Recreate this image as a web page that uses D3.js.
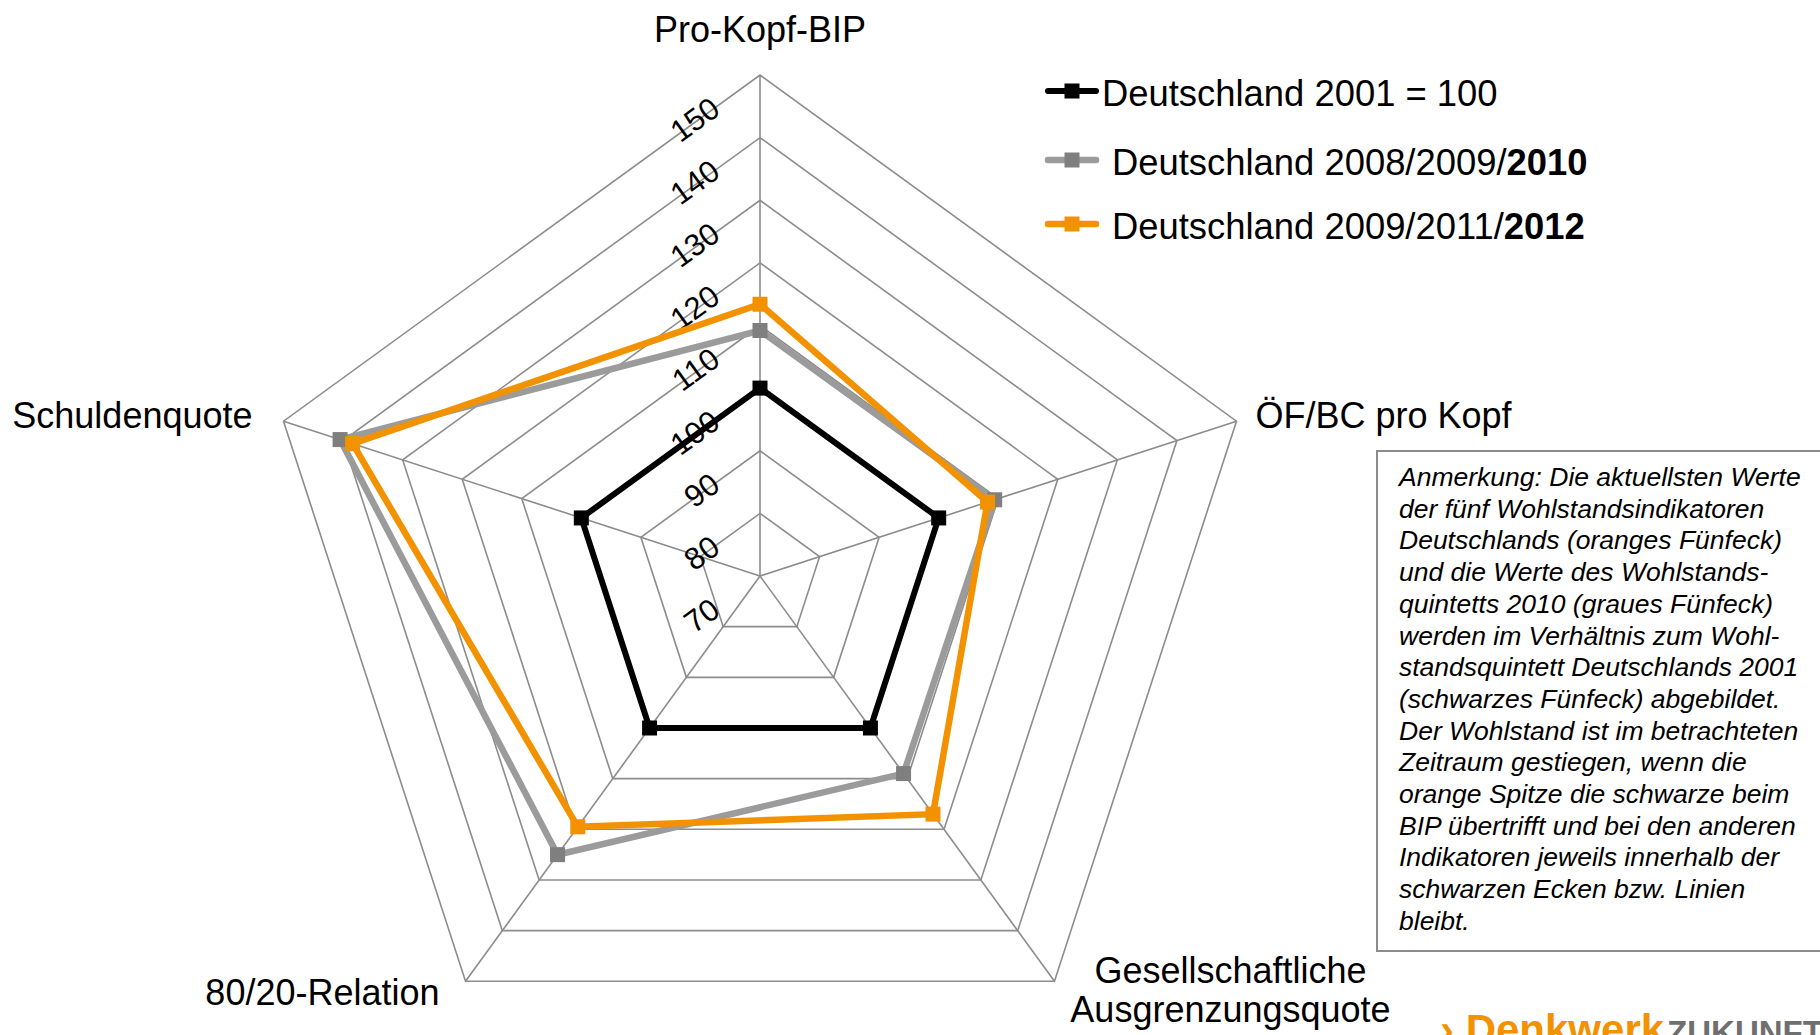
<!DOCTYPE html>
<html>
<head>
<meta charset="utf-8">
<script src="https://d3js.org/d3.v7.min.js"></script>
<style>
  body { margin: 0; background: #fff; }
  svg text { font-family: "Liberation Sans", Arial, sans-serif; fill: #000; }
</style>
</head>
<body>
<div id="chart"></div>
<script>
// chart data
var indicators = ["Pro-Kopf-BIP", "ÖF/BC pro Kopf", "Gesellschaftliche\nAusgrenzungsquote", "80/20-Relation", "Schuldenquote"];
var values2001 = [100, 100, 100, 100, 100];
var values2010 = [109.2, 109.4, 109, 125, 140.5];
var values2012 = [113.4, 108.2, 117, 119.5, 138.4];
var tickValues = [70, 80, 90, 100, 110, 120, 130, 140, 150];
var legendPlain = ["Deutschland 2001 = 100", "Deutschland 2008/2009/", "Deutschland 2009/2011/"];
var legendBold = ["", "2010", "2012"];
var noteLines = [
  "Anmerkung: Die aktuellsten Werte",
  "der fünf Wohlstandsindikatoren",
  "Deutschlands (oranges Fünfeck)",
  "und die Werte des Wohlstands-",
  "quintetts 2010 (graues Fünfeck)",
  "werden im Verhältnis zum Wohl-",
  "standsquintett Deutschlands 2001",
  "(schwarzes Fünfeck) abgebildet.",
  "Der Wohlstand ist im betrachteten",
  "Zeitraum gestiegen, wenn die",
  "orange Spitze die schwarze beim",
  "BIP übertrifft und bei den anderen",
  "Indikatoren jeweils innerhalb der",
  "schwarzen Ecken bzw. Linien",
  "bleibt."
];

var svgWidth = 1820, svgHeight = 1035;
var cx = 760, cy = 576;

var svg = d3.select("#chart").append("svg")
  .attr("width", svgWidth)
  .attr("height", svgHeight);

var chartGroup = svg.append("g")
  .attr("transform", `translate(${cx}, ${cy})`);

// scales
var rScale = d3.scaleLinear().domain([70, 150]).range([0, 501]);
var angle = d3.scaleLinear().domain([0, indicators.length]).range([0, 2 * Math.PI]);

var radar = d3.lineRadial()
  .angle((d, i) => angle(i))
  .radius(d => rScale(d))
  .curve(d3.curveLinearClosed);

function point(v, i) {
  var a = angle(i);
  return [rScale(v) * Math.sin(a), -rScale(v) * Math.cos(a)];
}

// grid rings
var gridColor = "#8c8c8c";
chartGroup.selectAll(".ring")
  .data(tickValues.slice(1))
  .enter()
  .append("path")
  .attr("d", t => radar(indicators.map(() => t)))
  .attr("fill", "none")
  .attr("stroke", gridColor)
  .attr("stroke-width", 1.6);

// spokes
chartGroup.selectAll(".spoke")
  .data(indicators)
  .enter()
  .append("line")
  .attr("x1", 0).attr("y1", 0)
  .attr("x2", (d, i) => point(150, i)[0])
  .attr("y2", (d, i) => point(150, i)[1])
  .attr("stroke", gridColor)
  .attr("stroke-width", 1.6);

// tick labels along vertical axis, rotated
chartGroup.selectAll(".tick")
  .data(tickValues)
  .enter()
  .append("text")
  .attr("text-anchor", "end")
  .attr("transform", d => `translate(-38, ${-rScale(d) + 38}) rotate(-36)`)
  .style("font-size", "31px")
  .text(d => d);

// series
var series = [
  {vals: values2001, line: "#000000", marker: "#000000", width: 6},
  {vals: values2010, line: "#9b9b9b", marker: "#7f7f7f", width: 6.5},
  {vals: values2012, line: "#f39200", marker: "#f39200", width: 6.5}
];
var ms = 15;

series.forEach(function(s) {
  chartGroup.append("path")
    .attr("d", radar(s.vals))
    .attr("fill", "none")
    .attr("stroke", s.line)
    .attr("stroke-width", s.width)
    .attr("stroke-linejoin", "miter");
  chartGroup.selectAll(null)
    .data(s.vals)
    .enter()
    .append("rect")
    .attr("x", (d, i) => point(d, i)[0] - ms / 2)
    .attr("y", (d, i) => point(d, i)[1] - ms / 2)
    .attr("width", ms)
    .attr("height", ms)
    .attr("fill", s.marker);
});

// category labels
var labelLayout = [
  {anchor: "middle", dx: 0, dy: -33},
  {anchor: "start", dx: 19, dy: 7},
  {anchor: "middle", dx: 176, dy: 2},
  {anchor: "end", dx: -26, dy: 24},
  {anchor: "end", dx: -31, dy: 7}
];
indicators.forEach(function(name, i) {
  var p = point(150, i);
  var lay = labelLayout[i];
  var t = chartGroup.append("text")
    .attr("text-anchor", lay.anchor)
    .attr("x", p[0] + lay.dx)
    .attr("y", p[1] + lay.dy)
    .style("font-size", "36px");
  name.split("\n").forEach(function(part, j) {
    t.append("tspan")
      .attr("x", p[0] + lay.dx)
      .attr("dy", j === 0 ? 0 : 39)
      .text(part);
  });
});

// legend
var legend = svg.append("g");
var legendY = [106, 175, 239];
var legendX = [1102, 1112, 1112];
series.forEach(function(s, i) {
  var y = legendY[i] - 15;
  legend.append("line")
    .attr("x1", 1048).attr("x2", 1096)
    .attr("y1", y).attr("y2", y)
    .attr("stroke", s.line)
    .attr("stroke-width", s.width)
    .attr("stroke-linecap", "round");
  legend.append("rect")
    .attr("x", 1072 - ms / 2).attr("y", y - ms / 2)
    .attr("width", ms).attr("height", ms)
    .attr("fill", s.marker);
  var t = legend.append("text")
    .attr("x", legendX[i])
    .attr("y", legendY[i])
    .style("font-size", "36.4px");
  t.append("tspan").text(legendPlain[i]);
  t.append("tspan").style("font-weight", "bold").text(legendBold[i]);
});

// annotation box
var note = svg.append("g");
note.append("rect")
  .attr("x", 1377).attr("y", 451)
  .attr("width", 470).attr("height", 500)
  .attr("fill", "#fff")
  .attr("stroke", "#8c8c8c")
  .attr("stroke-width", 2);
note.selectAll("text")
  .data(noteLines)
  .enter()
  .append("text")
  .attr("x", 1399)
  .attr("y", (d, i) => 486 + i * 31.7)
  .style("font-size", "26.5px")
  .style("font-style", "italic")
  .text(d => d);

// logo, cut at the bottom like the original
var logo = svg.append("text")
  .attr("x", 1440)
  .attr("y", 1044)
  .style("font-weight", "bold");
logo.append("tspan").style("fill", "#f39200").style("font-size", "42px").text("› Denkwerk");
logo.append("tspan").style("fill", "#6f6f6f").style("font-size", "33px").attr("dx", 3).text("ZUKUNFT");
</script>
</body>
</html>
